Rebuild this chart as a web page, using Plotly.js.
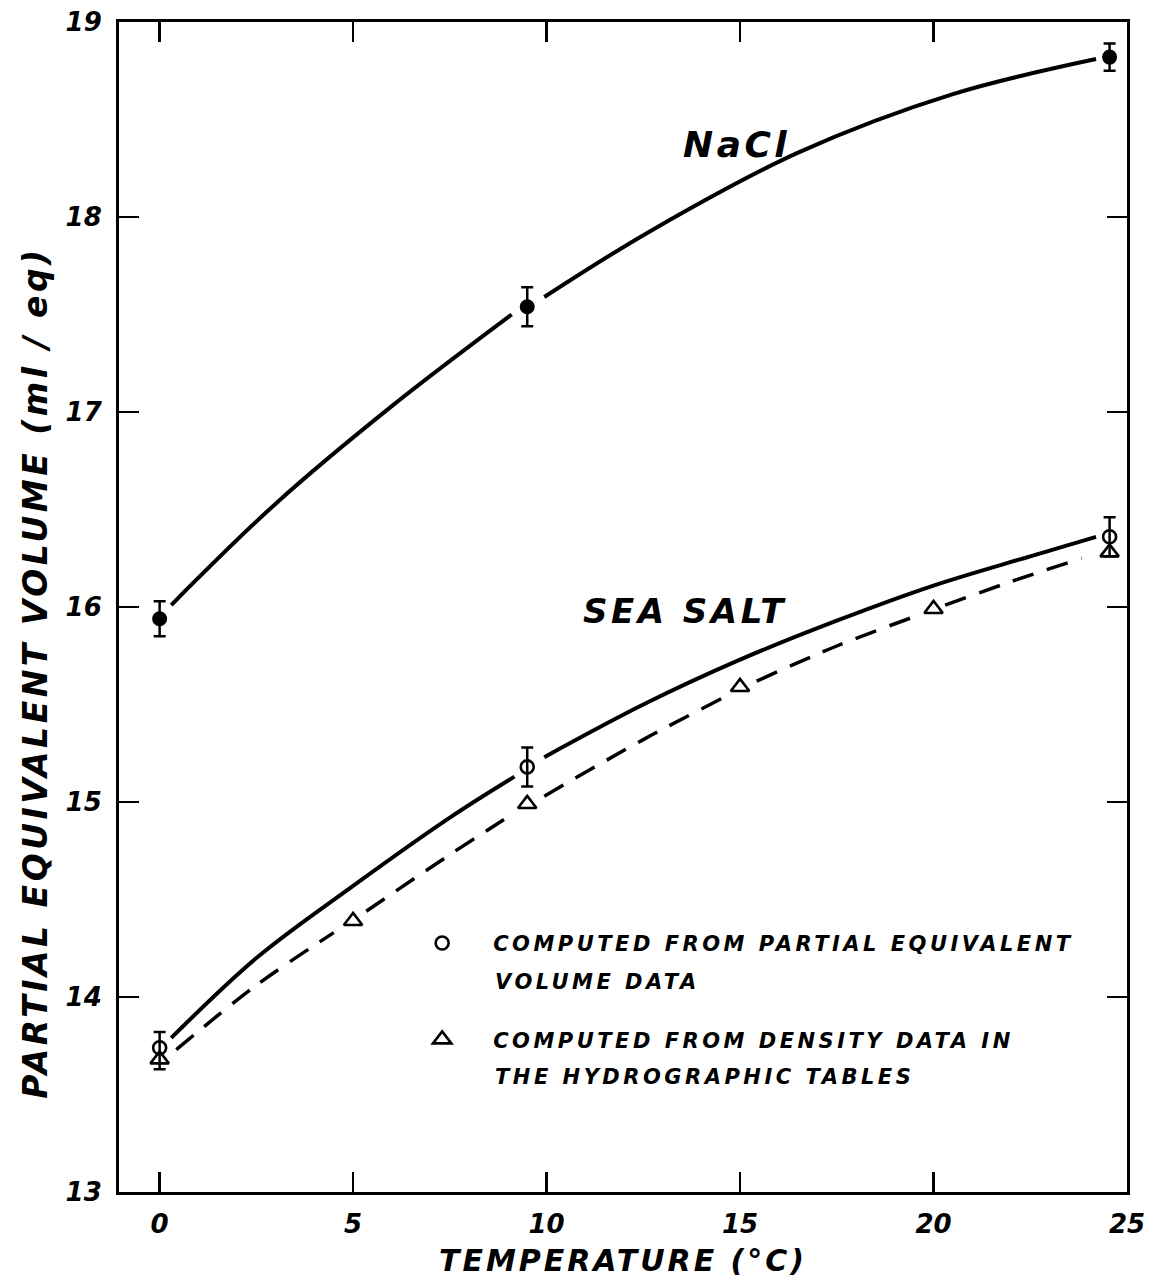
<!DOCTYPE html>
<html>
<head>
<meta charset="utf-8">
<script src="https://cdn.plot.ly/plotly-3.0.1.min.js"></script>
<style>
  html, body { margin: 0; padding: 0; background: #fff; }
  #chart { width: 1151px; height: 1279px; }
  .xtitle { letter-spacing: 3px; }
  .legendtext { letter-spacing: 3.5px; }
  .annotation-text { letter-spacing: 3.5px; }
</style>
</head>
<body>
<div id="chart"></div>
<script>
// ---- data ----
const xTicks = [0, 5, 10, 15, 20, 25];
const yTicks = [13, 14, 15, 16, 17, 18, 19];

// NaCl measured points (filled circles)
const naclT = [0, 9.5, 24.55];
const naclV = [15.94, 17.54, 18.82];
const naclErr = [0.09, 0.10, 0.07];

// Sea salt, computed from partial equivalent volume data (open circles)
const pevT = [0, 9.5, 24.55];
const pevV = [13.74, 15.18, 16.36];
const pevErrUp = [0.08, 0.10, 0.10];
const pevErrDown = [0.11, 0.10, 0.10];

// Sea salt, computed from density data in the hydrographic tables (triangles)
const densT = [0, 5, 9.5, 15, 20, 24.55];
const densV = [13.68, 14.39, 14.99, 15.59, 15.99, 16.28];

// Smooth curves as drawn (null = where the drawn curve is interrupted at a symbol)
const naclCurveT = [0.3, 3, 6, 9.1, null, 9.94, 12.7, 16.5, 20.5, 24.2];
const naclCurveV = [16.01, 16.53, 17.03, 17.50, null, 17.59, 17.93, 18.33, 18.63, 18.81];

const seaCurveT = [0.3, 2.5, 5, 7.5, 9.17, null, 9.94, 12.5, 15, 17.5, 20, 22.5, 24.2];
const seaCurveV = [13.79, 14.20, 14.57, 14.92, 15.13, null, 15.23, 15.50, 15.73, 15.93, 16.11, 16.26, 16.36];

const densCurveT = [0.43, 2.5, 4.5, null, 5.34, 7.5, 8.9, null, 9.94, 12.5, 14.52, null, 15.43, 17.5, 19.5, null, 20.3, 22, 23.83];
const densCurveV = [13.73, 14.06, 14.33, null, 14.44, 14.73, 14.91, null, 15.03, 15.32, 15.53, null, 15.62, 15.80, 15.95, null, 16.01, 16.13, 16.25];

const labelNaCl = "NaCl";
const labelSea = "SEA SALT";
const legendPev = ["COMPUTED FROM PARTIAL EQUIVALENT", "VOLUME DATA"];
const legendDens = ["COMPUTED FROM DENSITY DATA IN", "THE HYDROGRAPHIC TABLES"];

const FONT = "DejaVu Sans, Liberation Sans, sans-serif";
const txt = (size, weight) => ({ family: FONT, size: size, color: "#000", style: "italic", weight: weight || "bold" });

const traces = [
  { x: naclCurveT, y: naclCurveV, mode: "lines", connectgaps: false, line: { color: "#000", width: 4, shape: "spline", smoothing: 1 }, showlegend: false, hoverinfo: "skip" },
  { x: seaCurveT, y: seaCurveV, mode: "lines", connectgaps: false, line: { color: "#000", width: 4, shape: "spline", smoothing: 1 }, showlegend: false, hoverinfo: "skip" },
  { x: densCurveT, y: densCurveV, mode: "lines", connectgaps: false, line: { color: "#000", width: 3.5, shape: "spline", smoothing: 1, dash: "22px,14px" }, showlegend: false, hoverinfo: "skip" },
  { x: pevT, y: pevV, mode: "markers", name: legendPev[0], legendgroup: "a",
    marker: { symbol: "circle-open", size: 13, color: "#000", line: { width: 2.6, color: "#000" } },
    error_y: { type: "data", symmetric: false, array: pevErrUp, arrayminus: pevErrDown, color: "#000", thickness: 2.5, width: 6 } },
  { x: densT, y: densV, mode: "markers", name: legendDens[0], legendgroup: "b",
    marker: { symbol: "triangle-up-open", size: 16, color: "#000", line: { width: 2.6, color: "#000" } } },
  { x: naclT, y: naclV, mode: "markers", showlegend: false,
    marker: { symbol: "circle", size: 15, color: "#000" },
    error_y: { type: "data", array: naclErr, color: "#000", thickness: 2.5, width: 6 } }
];

const axisCommon = {
  showline: true, linecolor: "#000", linewidth: 3, mirror: "ticks",
  ticks: "inside", ticklen: 20, tickwidth: 2.5, tickcolor: "#000",
  showgrid: false, zeroline: false,
  tickfont: txt(26)
};

const layout = {
  width: 1151, height: 1279,
  margin: { l: 119, r: 24, t: 22, b: 87 },
  paper_bgcolor: "#fff", plot_bgcolor: "#fff",
  showlegend: true,
  legend: {
    x: 0.270, y: 0.230, xanchor: "left", yanchor: "top",
    bgcolor: "rgba(0,0,0,0)", borderwidth: 0,
    font: txt(21),
    traceorder: "grouped", tracegroupgap: 66, valign: "top", itemwidth: 92
  },
  xaxis: Object.assign({}, axisCommon, {
    range: [-1.05, 25], tickvals: xTicks, ticktext: xTicks.map(String), ticklabelstandoff: 7,
    title: { text: "TEMPERATURE (°C)", standoff: 12, font: txt(30) }
  }),
  yaxis: Object.assign({}, axisCommon, {
    range: [13, 19], tickvals: yTicks, ticktext: yTicks.map(String), ticklabelstandoff: 9,
    title: { text: "" }
  }),
  annotations: [
    { text: "PARTIAL EQUIVALENT VOLUME (ml / eq)", xref: "paper", yref: "paper", x: -0.083, y: 0.444,
      xanchor: "center", yanchor: "middle", textangle: -90, showarrow: false, font: txt(33) },
    { text: labelNaCl, x: 14.9, y: 18.37, xref: "x", yref: "y", showarrow: false, font: txt(36) },
    { text: labelSea, x: 13.57, y: 15.98, xref: "x", yref: "y", showarrow: false, font: txt(34) },
    { text: legendPev[1], xref: "paper", yref: "paper", x: 0.371, y: 0.1795, xanchor: "left", yanchor: "middle",
      showarrow: false, font: txt(21) },
    { text: legendDens[1], xref: "paper", yref: "paper", x: 0.371, y: 0.0983, xanchor: "left", yanchor: "middle",
      showarrow: false, font: txt(21) }
  ]
};

Plotly.newPlot("chart", traces, layout, { staticPlot: true, displayModeBar: false });
</script>
</body>
</html>
